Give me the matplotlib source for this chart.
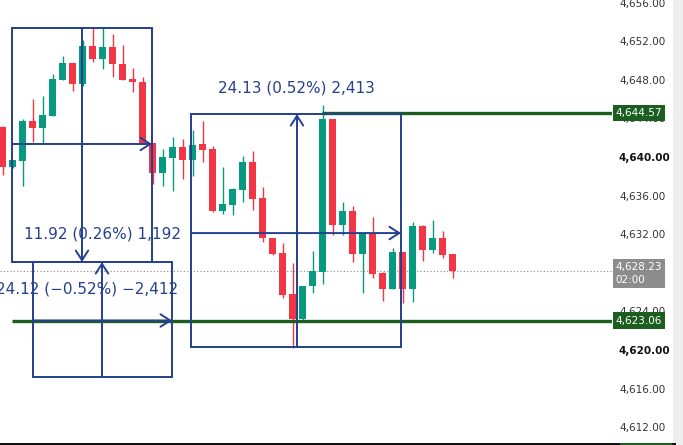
import numpy as np
import matplotlib
matplotlib.use("Agg")
import matplotlib.pyplot as plt
import matplotlib.transforms as mtransforms
from matplotlib.patches import Rectangle

# 30-minute candles (oldest first)
opens = [4643.11, 4638.96, 4639.59, 4643.73, 4643.01, 4644.25, 4647.98, 4649.74,
         4647.56, 4651.50, 4650.16, 4651.40, 4649.64, 4648.08, 4647.77, 4641.45,
         4638.34, 4639.90, 4641.04, 4639.69, 4641.35, 4640.83, 4634.40, 4635.03,
         4636.58, 4639.48, 4635.75, 4631.61, 4630.05, 4625.80, 4623.21, 4626.63,
         4628.08, 4643.94, 4632.95, 4634.40, 4629.95, 4632.12, 4627.98, 4626.32,
         4630.16, 4626.32, 4632.85, 4630.36, 4631.61, 4629.95]
highs = [4643.21, 4639.69, 4643.94, 4646.01, 4646.32, 4648.60, 4650.47, 4649.74,
         4652.12, 4653.37, 4653.37, 4652.75, 4651.61, 4649.22, 4648.29, 4641.45,
         4640.83, 4642.07, 4641.87, 4642.80, 4643.73, 4641.14, 4638.96, 4636.79,
         4640.10, 4640.62, 4636.89, 4631.61, 4631.09, 4629.02, 4626.63, 4630.26,
         4645.39, 4643.94, 4635.34, 4634.92, 4632.12, 4633.78, 4628.08, 4630.57,
         4630.16, 4633.26, 4632.95, 4633.47, 4632.33, 4629.95]
lows = [4638.13, 4638.86, 4636.99, 4641.55, 4641.45, 4644.25, 4647.98, 4646.84,
        4647.36, 4649.84, 4649.12, 4648.29, 4647.98, 4646.74, 4641.35, 4637.20,
        4636.99, 4636.48, 4637.72, 4638.03, 4639.48, 4634.30, 4634.09, 4633.99,
        4635.34, 4634.51, 4631.19, 4629.84, 4625.39, 4620.21, 4623.11, 4625.91,
        4626.84, 4631.92, 4631.92, 4629.12, 4625.91, 4627.46, 4625.08, 4626.32,
        4624.87, 4624.97, 4629.22, 4630.05, 4629.53, 4627.46]
closes = [4638.96, 4639.69, 4643.73, 4643.01, 4644.35, 4648.08, 4649.74, 4647.56,
          4651.50, 4650.16, 4651.40, 4649.64, 4647.98, 4647.77, 4641.35, 4638.34,
          4640.00, 4641.04, 4639.69, 4641.24, 4640.73, 4634.40, 4635.13, 4636.68,
          4639.48, 4635.65, 4631.61, 4629.95, 4625.70, 4623.21, 4626.63, 4628.19,
          4643.94, 4632.95, 4634.40, 4629.95, 4632.12, 4627.88, 4626.32, 4630.16,
          4626.32, 4632.85, 4630.36, 4631.61, 4629.84, 4628.23]

last_price = 4628.23
level_high = 4644.57
level_low = 4623.06
price_ticks = [4612, 4616, 4620, 4624, 4628, 4632, 4636, 4640, 4644, 4648, 4652, 4656]

# drawing tools: (left bar, right bar, top price, bottom price, mid bar, mid price)
box_a = (0.93, 14.93, 4653.37, 4629.12, 7.93, 4641.35)
box_b = (3.03, 16.93, 4629.12, 4617.20, 9.93, 4623.06)
box_c = (18.83, 39.83, 4644.45, 4620.30, 29.43, 4632.12)
label_a = "24.12 (\u22120.52%) \u22122,412"
label_b = "11.92 (0.26%) 1,192"
label_c = "24.13 (0.52%) 2,413"

UP = "#089981"
DOWN = "#f23645"
NAVY = "#24408e"
DKGREEN = "#1b5e20"

fig = plt.figure(figsize=(6.83, 4.45), dpi=100)
ax = fig.add_axes([0, 0, 612 / 683, 1])
ax.set_xlim(-0.27, 60.93)
ax.set_ylim(4610.16, 4656.27)

o = np.array(opens)
c = np.array(closes)
x = np.arange(len(o))
colors = [UP if cc >= oo else DOWN for oo, cc in zip(o, c)]
ax.vlines(x, lows, highs, colors=colors, lw=1, zorder=2)
ax.bar(x, np.abs(c - o), bottom=np.minimum(o, c), width=0.7, color=colors, zorder=2)

ax.axhline(last_price, color="#888888", lw=0.8, ls=(0, (1, 2)), zorder=1)
ax.plot([box_a[0], 60.93], [level_low, level_low], color=DKGREEN, lw=2.4, zorder=3,
        solid_capstyle="butt")
ax.plot([31.93, 60.93], [level_high, level_high], color=DKGREEN, lw=2.4, zorder=3,
        solid_capstyle="butt")

arrow = dict(arrowstyle="->,head_length=0.7,head_width=0.45", color=NAVY, lw=1.4,
             shrinkA=0, shrinkB=0)


def draw_box(b, down):
    x0, x1, top, bot, xm, ym = b
    ax.add_patch(Rectangle((x0, bot), x1 - x0, top - bot, fill=False, ec=NAVY, lw=1.4, zorder=4))
    ax.annotate("", xy=(x1, ym), xytext=(x0, ym), arrowprops=arrow, zorder=4)
    if down:
        ax.annotate("", xy=(xm, bot), xytext=(xm, top), arrowprops=arrow, zorder=4)
    else:
        ax.annotate("", xy=(xm, top), xytext=(xm, bot), arrowprops=arrow, zorder=4)


draw_box(box_a, True)
draw_box(box_b, False)
draw_box(box_c, False)

ax.text(8.43, 4626.32, label_a, color=NAVY, fontsize=11, ha="center", va="center", zorder=5)
ax.text(10.03, 4632.02, label_b, color=NAVY, fontsize=11, ha="center", va="center", zorder=5)
ax.text(29.38, 4647.15, label_c, color=NAVY, fontsize=11, ha="center", va="center", zorder=5)

for s in ax.spines.values():
    s.set_visible(False)
ax.set_xticks([])
ax.yaxis.tick_right()
ax.set_yticks(price_ticks)
ax.set_yticklabels([f"{t:,.2f}" for t in price_ticks])
ax.tick_params(axis="y", length=0, pad=5, labelsize=7.5, labelcolor="#333333")
for lab, t in zip(ax.get_yticklabels(), price_ticks):
    if t in (4620, 4640):
        lab.set_fontweight("bold")
        lab.set_color("#111111")

side = mtransforms.blended_transform_factory(ax.transAxes, ax.transData)
for lv in (level_high, level_low):
    ax.text(1.006, lv, f"{lv:,.2f}", transform=side, color="white", fontsize=7.5,
            ha="left", va="center", zorder=6, clip_on=False,
            bbox=dict(boxstyle="square,pad=0.3", fc=DKGREEN, ec="none"))
ax.text(1.006, last_price + 0.85, f"{last_price:,.2f}\n02:00", transform=side,
        color="white", fontsize=7.5, ha="left", va="top", zorder=6, clip_on=False,
        linespacing=1.3, bbox=dict(boxstyle="square,pad=0.3", fc="#8c8c8c", ec="none"))

# right-hand strip and bottom edge of the panel
fig.patches.append(Rectangle((673 / 683, 0), 10 / 683, 1, transform=fig.transFigure,
                             fc="#eeeeee", ec="none"))
fig.patches.append(Rectangle((0, 0), 676 / 683, 2 / 445, transform=fig.transFigure,
                             fc="#111111", ec="none"))
fig.patches.append(Rectangle((620 / 683, 0), 52 / 683, 2 / 445, transform=fig.transFigure,
                             fc=DKGREEN, ec="none"))

fig.savefig("out.png", dpi=100)
